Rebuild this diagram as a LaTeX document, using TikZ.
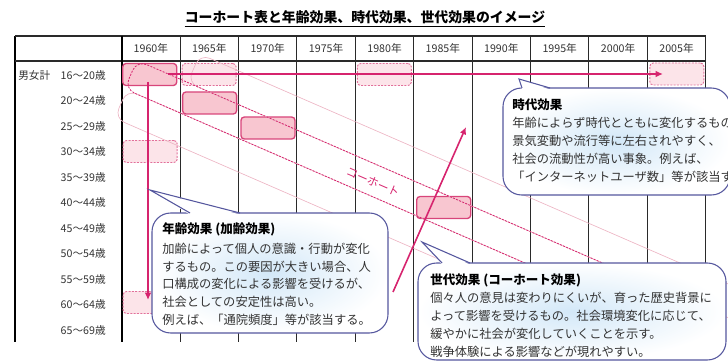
\documentclass[tikz,border=0pt]{standalone}
\usepackage{fontspec}
\newfontfamily\jp{Noto Sans CJK JP}
\usetikzlibrary{arrows.meta}
\definecolor{mag}{HTML}{D6246E}
\definecolor{boxfill}{HTML}{F8C6D0}
\definecolor{boxline}{HTML}{D8457A}
\definecolor{dashfill}{HTML}{FCE4E9}
\definecolor{dashline}{HTML}{E2709A}
\definecolor{bandc}{HTML}{EDB6C5}
\definecolor{callc}{HTML}{55579E}
\definecolor{glow}{HTML}{D3E8F8}
\definecolor{gridc}{HTML}{2A2A2A}
\definecolor{txt}{HTML}{333333}
\begin{document}
\begin{tikzpicture}[x=0.75pt,y=-0.75pt,
  gridline/.style={draw=gridc, line width=0.8pt},
  gridthick/.style={draw=black, line width=1.2pt},
  sbox/.style={draw=boxline, fill=boxfill, line width=1pt, rounded corners=2.5pt, minimum width=40.5pt, minimum height=16.5pt, inner sep=0pt},
  dbox/.style={draw=dashline, fill=dashfill, line width=0.7pt, dash pattern=on 1.5pt off 1pt, rounded corners=2.5pt, minimum width=40.5pt, minimum height=16.5pt, inner sep=0pt},
  lightband/.style={draw=bandc, line width=0.5pt, rounded corners=8pt},
  cohband/.style={draw=mag, line width=0.6pt, dash pattern=on 1.5pt off 1pt, rounded corners=8pt},
  arr/.style={draw=mag, line width=1.2pt, -{Latex[length=5.5pt,width=5pt]}},
  callout/.style={draw=callc, line width=0.8pt},
  lbl/.style={text=txt, font=\jp\fontsize{8pt}{9pt}\selectfont, inner sep=0pt},
  yr/.style={text=txt, font=\jp\fontsize{8pt}{9pt}\selectfont, inner sep=0pt},
  ctitle/.style={font=\jp\bfseries\fontsize{9.4pt}{11pt}\selectfont, inner sep=0pt, anchor=west, text=black},
  cbody/.style={font=\jp\fontsize{9.2pt}{11pt}\selectfont, inner sep=0pt, anchor=west, text=txt}]
\useasboundingbox (0,0) rectangle (728,363);
\clip (0,0) rectangle (728,363);

% title
\node[font=\jp\bfseries\fontsize{10.4pt}{12pt}\selectfont, inner sep=0pt] (title) at (365,17) {コーホート表と年齢効果、時代効果、世代効果のイメージ};
\draw[line width=0.6pt] ([yshift=-2pt]title.south west) -- ([yshift=-2pt]title.south east);

% table grid
\draw[gridthick] (15,36) -- (15,342);
\draw[gridline] (15,36) -- (705.7,36);
\draw[gridline] (15,61) -- (705.7,61);
\draw[gridthick] (121.7,36) -- (121.7,342);
\foreach \k in {1,...,10} \draw[gridline] ({121.7+58.4*\k},36) -- ({121.7+58.4*\k},342);

% years
\foreach \yv [count=\k from 0] in {1960,1965,1970,1975,1980,1985,1990,1995,2000,2005}
  \node[yr] (yr\k) at ({150.9+58.4*\k},48.5) {\yv 年};

% age labels
\node[lbl, anchor=west] (sexlbl) at (18,75) {男女計};
\foreach \a [count=\i from 0] in {16～20歳,20～24歳,25～29歳,30～34歳,35～39歳,40～44歳,45～49歳,50～54歳,55～59歳,60～64歳,65～69歳}
  \node[lbl, anchor=east] (age\i) at (106,{75+25.5*\i}) {\a};

% boxes
\node[dbox] (d1) at (209.1,74.5) {};
\node[dbox] (d2) at (384.3,74.5) {};
\node[dbox] (d3) at (676.8,74) {};
\node[dbox] (d4) at (150.2,151.5) {};
\node[dbox] (d5) at (150.2,302.5) {};
\node[sbox] (s1) at (149.7,74.5) {};
\node[sbox] (s2) at (209.6,103) {};
\node[sbox] (s3) at (268,128) {};
\node[sbox] (s4) at (443.7,207.5) {};

% cohort bands
\draw[lightband] (760,297.8) -- (200,54.1) -- (187.6,82.5) -- (747.6,326.2) -- cycle;
\draw[lightband] (640,313) -- (127,89.8) -- (114.6,118.2) -- (627.6,341.4) -- cycle;
\draw[cohband] (700,305.4) -- (137,60.4) -- (124.6,88.8) -- (687.6,333.8) -- cycle;

% arrows
\coordinate (h0) at (168,74);
\coordinate (h1) at (663,74);
\coordinate (v0) at (148,82);
\coordinate (v1) at (148,300);
\coordinate (g0) at (393,292);
\coordinate (g1) at (466,127);
\draw[arr] (h0) -- (h1);
\draw[arr] (v0) -- (v1);
\draw[arr] (g0) -- (g1);

\node[text=mag, font=\jp\fontsize{8.5pt}{10pt}\selectfont, rotate=-23.5, inner sep=0pt] (coh) at (373,182) {コーホート};

% callout: age effect
\shadedraw[callout, inner color=glow, outer color=white, rounded corners=14pt] (152,213) rectangle (388,333);
\fill[white] (150,190) -- (190,214.6) -- (240,214.6) -- cycle;
\draw[callout, line join=miter] (190,213) -- (150,190) -- (240,213);

% callout: period effect
\shadedraw[callout, inner color=glow, outer color=white, rounded corners=14pt] (503,88) rectangle (730,195);
\fill[white] (519,79) -- (522,89.6) -- (550,89.6) -- cycle;
\draw[callout, line join=miter] (522,88) -- (519,79) -- (550,88);

% callout: cohort effect
\shadedraw[callout, inner color=glow, outer color=white, rounded corners=14pt] (418,263) rectangle (726,360);
\fill[white] (422,242) -- (442,264.6) -- (470,264.6) -- cycle;
\draw[callout, line join=miter] (442,263) -- (422,242) -- (470,263);

% callout texts
\node[ctitle] (agetitle) at (162,229) {年齢効果 (加齢効果)};
\foreach \t [count=\i] in {{加齢によって個人の意識・行動が変化},{するもの。この要因が大きい場合、人},{口構成の変化による影響を受けるが、},{社会としての安定性は高い。},{例えば、「通院頻度」等が該当する。}}
  \node[cbody] (ageb\i) at (162,{249+(\i-1)*17.6}) {\t};

\node[ctitle] (pertitle) at (512,105) {時代効果};
\foreach \t [count=\i] in {{年齢によらず時代とともに変化するもの。},{景気変動や流行等に左右されやすく、},{社会の流動性が高い事象。例えば、},{「インターネットユーザ数」等が該当する。}}
  \node[cbody] (perb\i) at (512,{123+(\i-1)*18}) {\t};

\node[ctitle] (cohtitle) at (430,280) {世代効果 (コーホート効果)};
\foreach \t [count=\i] in {{個々人の意見は変わりにくいが、育った歴史背景に},{よって影響を受けるもの。社会環境変化に応じて、},{緩やかに社会が変化していくことを示す。},{戦争体験による影響などが現れやすい。}}
  \node[cbody] (cohb\i) at (430,{298+(\i-1)*18}) {\t};
\end{tikzpicture}
\end{document}
